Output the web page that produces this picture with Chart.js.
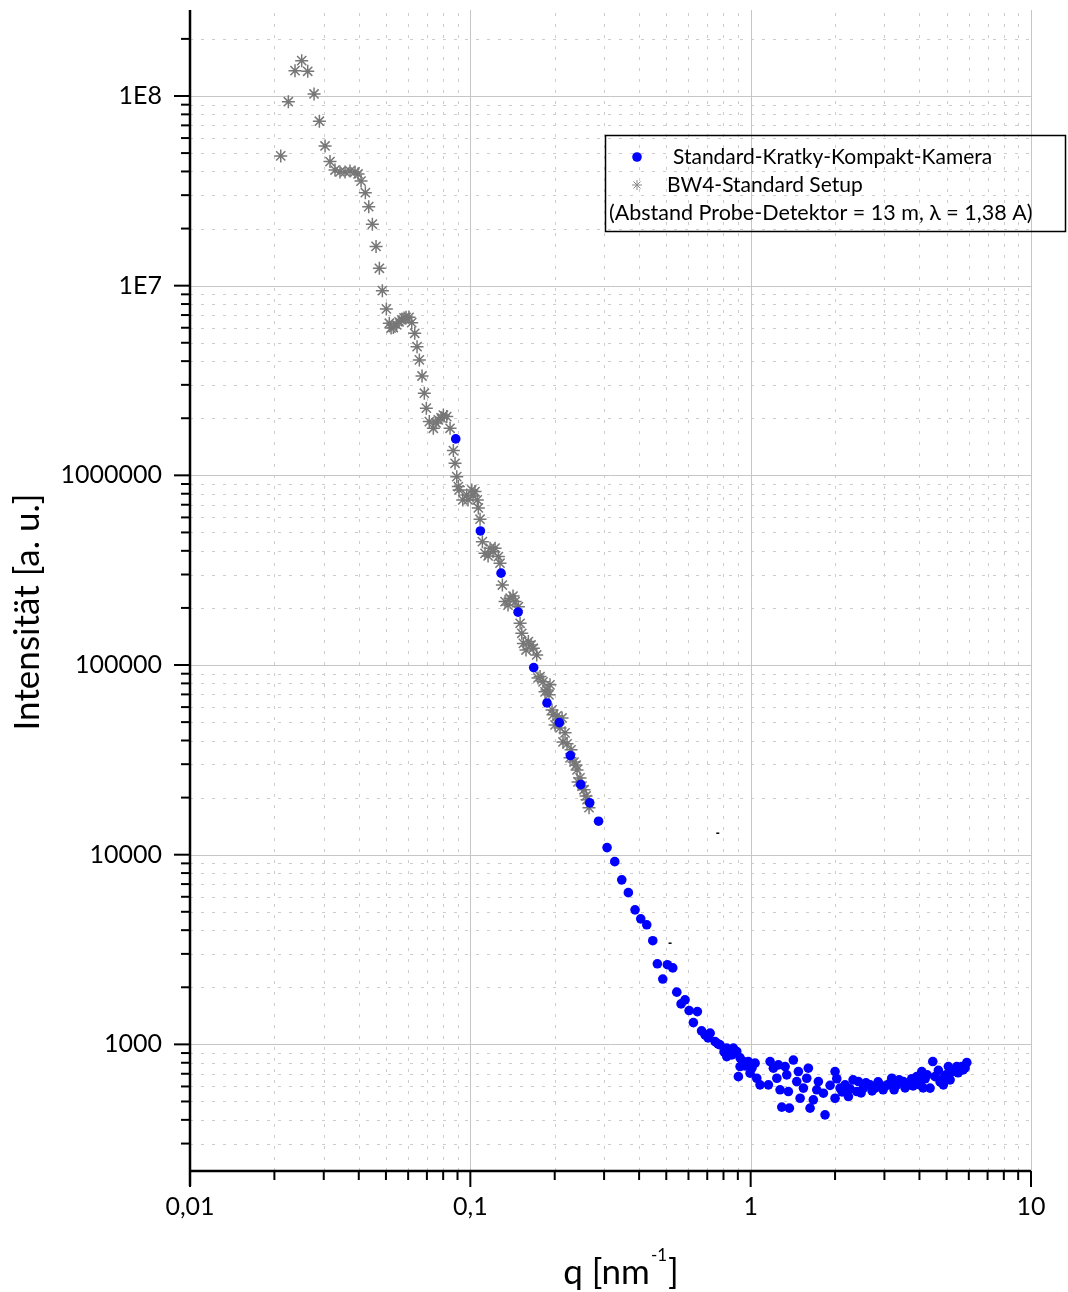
<!DOCTYPE html>
<html>
<head>
<meta charset="utf-8">
<script src="https://cdn.jsdelivr.net/npm/chart.js@4.4.1/dist/chart.umd.min.js"></script>
<style>
    html, body { margin: 0; padding: 0; background: #fff; }
    #wrap { width: 1068px; height: 1292px; position: relative; }
</style>
</head>
<body>
<div id="wrap"><canvas id="saxs"></canvas></div>
<script>
// Standard-Kratky-Kompakt-Kamera (blaue Punkte)
const kkkQ = [
    0.0887, 0.1086, 0.1287, 0.1480, 0.1683, 0.1877, 0.2077, 0.2274, 0.2476, 0.2667,
    0.2867, 0.3074, 0.3275, 0.3469, 0.3662, 0.3869, 0.4054, 0.4259, 0.4475, 0.4647,
    0.4858, 0.5045, 0.5274, 0.5451, 0.5646, 0.5834, 0.6030, 0.6246, 0.6455, 0.6682,
    0.6877, 0.7167, 0.7464, 0.7778, 0.8218, 0.8676, 0.8920, 0.8218, 0.8562, 0.9419,
    0.9813, 1.037, 0.9167, 0.9040, 0.9952, 1.051, 1.080, 1.173, 1.205, 1.256,
    1.327, 1.420, 1.157, 1.240, 1.345, 1.273, 1.363, 1.480, 1.606, 1.585,
    1.460, 1.542, 1.501, 1.291, 1.374, 1.629, 1.744, 1.721, 1.817, 1.673,
    1.842, 2.000, 2.028, 1.920, 2.084, 2.000, 2.172, 2.232, 2.423, 2.391,
    2.524, 2.667, 2.779, 2.895, 3.059, 3.187, 3.320, 3.506, 3.653, 3.756,
    3.914, 4.078, 4.022, 4.191, 4.365, 4.463, 4.548, 4.673, 4.869, 4.869,
    5.073, 5.287, 5.436, 5.664, 5.902,
    2.119, 2.262, 2.319, 2.477, 2.580, 2.711, 2.848, 2.968, 3.118, 3.248,
    3.384, 3.555, 3.797, 3.956, 4.122, 4.260, 4.740, 4.979, 5.146, 5.495,
    5.726, 5.821, 0.7047, 0.7650, 0.8037, 0.9167, 0.9550, 1.0116
];
const kkkI = [
    1556000, 509000, 305000, 190000, 96900, 63100, 49700, 33300, 23400, 18760,
    15020, 10900, 9190, 7370, 6310, 5120, 4590, 4270, 3520, 2660,
    2210, 2630, 2530, 1885, 1635, 1717, 1508, 1303, 1489, 1178,
    1122, 1146, 1034, 994, 955, 955, 917, 862, 880, 812,
    812, 796, 764, 676, 705, 663, 612, 812, 749, 780,
    764, 827, 612, 663, 691, 576, 564, 719, 749, 663,
    637, 588, 520, 467, 461, 461, 637, 576, 553, 510,
    425, 719, 659, 608, 588, 520, 612, 531, 637, 564,
    588, 612, 588, 612, 608, 663, 612, 637, 612, 659,
    676, 719, 612, 659, 588, 812, 676, 729, 663, 612,
    764, 719, 764, 764, 802,
    562, 583, 650, 555, 627, 569, 634, 576, 619, 576,
    650, 590, 604, 634, 590, 691, 634, 691, 650, 708,
    734, 752, 1082, 1006, 913, 849, 770, 752
];

// BW4-Standard Setup (graue Sterne)
const bw4Q = [
    0.02107, 0.02243, 0.02369, 0.02503, 0.0263, 0.0277, 0.02894, 0.03032, 0.03158, 0.0329,
    0.03428, 0.03573, 0.03722, 0.03879, 0.03976, 0.04075, 0.04222, 0.04341, 0.04472, 0.0461,
    0.04737, 0.04855, 0.05017, 0.0514, 0.05216, 0.05313, 0.05462, 0.05566, 0.05692, 0.05801,
    0.05897, 0.06044, 0.0618, 0.06335, 0.06456, 0.06579, 0.06726, 0.06854, 0.06967, 0.0714,
    0.07379, 0.07544, 0.0769, 0.07865, 0.08013, 0.08239, 0.08466, 0.08699, 0.0882, 0.08945,
    0.09063, 0.09115, 0.09396, 0.0971, 0.0981, 0.1012, 0.1022, 0.1039, 0.1059, 0.1068,
    0.1083, 0.1104, 0.1128, 0.1157, 0.1176, 0.1205, 0.1225, 0.1259, 0.1276, 0.1301,
    0.133, 0.1363, 0.1386, 0.142, 0.1444, 0.1484, 0.1505, 0.1526, 0.1546, 0.158,
    0.1611, 0.1647, 0.1678, 0.1725, 0.1744, 0.1773, 0.1817, 0.1847, 0.1877, 0.1908,
    0.1924, 0.1956, 0.1972, 0.2005, 0.2038, 0.2089, 0.2124, 0.2141, 0.2177, 0.2213,
    0.2268, 0.2287, 0.2344, 0.2383, 0.2402, 0.2422, 0.2462, 0.2503, 0.2544, 0.2587,
    0.2608, 0.2651
];
const bw4I = [
    4.83e7, 9.33e7, 1.36e8, 1.535e8, 1.35e8, 1.025e8, 7.36e7, 5.45e7, 4.51e7, 4.07e7,
    3.98e7, 3.98e7, 4.02e7, 3.98e7, 3.88e7, 3.56e7, 3.09e7, 2.61e7, 2.11e7, 1.61e7,
    1.235e7, 9.41e6, 7.54e6, 6.34e6, 5.98e6, 6.01e6, 6.21e6, 6.44e6, 6.6e6, 6.76e6,
    6.81e6, 6.81e6, 6.38e6, 5.61e6, 4.77e6, 4.06e6, 3.34e6, 2.71e6, 2.26e6, 1.92e6,
    1.77e6, 1.89e6, 1.96e6, 2.01e6, 2.08e6, 2.04e6, 1.77e6, 1.35e6, 1.158e6, 9.84e5,
    8.72e5, 8.38e5, 7.42e5, 7.88e5, 7.42e5, 8.38e5, 7.79e5, 8.21e5, 7.42e5, 6.73e5,
    5.87e5, 4.47e5, 3.88e5, 3.76e5, 4.13e5, 3.95e5, 4.13e5, 3.73e5, 3.44e5, 2.64e5,
    2.16e5, 2.07e5, 2.25e5, 2.31e5, 2.16e5, 2.03e5, 1.66e5, 1.47e5, 1.3e5, 1.2e5,
    1.33e5, 1.276e5, 1.226e5, 1.13e5, 8.55e4, 8.69e4, 8.15e4, 7.22e4, 7.39e4, 6.96e4,
    7.86e4, 5.8e4, 5.46e4, 4.83e4, 5.39e4, 4.66e4, 5.26e4, 3.93e4, 4.39e4, 3.84e4,
    3.24e4, 3.57e4, 3.08e4, 2.97e4, 2.8e4, 2.42e4, 2.54e4, 2.3e4, 2.2e4, 2.04e4,
    1.95e4, 1.77e4
];

// zwei kleine schwarze Striche im Bild
const markQ = [0.7633, 0.5158];
const markI = [12980, 3415];

// Achsen
const xRange = [0.01, 10];
const yRange = [215, 2.84e8];
const xTickLabels = ['0,01', '0,1', '1', '10'];        // 1e-2 .. 1e1
const yTickLabels = ['1000', '10000', '100000', '1000000', '1E7', '1E8']; // 1e3 .. 1e8
const legendNote = '(Abstand Probe-Detektor = 13 m, \u03bb = 1,38 A)';

const FONT = "Lato, 'DejaVu Sans', sans-serif";

function logTicks(min, max) {
    const out = [];
    for (let e = Math.floor(Math.log10(min)); e <= Math.ceil(Math.log10(max)); e++) {
        for (let m = 1; m <= 9; m++) {
            const v = m * Math.pow(10, e);
            if (v >= min * 0.999 && v <= max * 1.001) out.push(v);
        }
    }
    return out;
}
const isDecade = v => Math.abs(Math.log10(v) - Math.round(Math.log10(v))) < 1e-9;
const pts = (q, I) => q.map((v, i) => ({ x: v, y: I[i] }));

function drawStar(ctx, x, y, r) {
    ctx.beginPath();
    for (let k = 0; k < 4; k++) {
        const a = k * Math.PI / 4;
        ctx.moveTo(x - r * Math.cos(a), y - r * Math.sin(a));
        ctx.lineTo(x + r * Math.cos(a), y + r * Math.sin(a));
    }
    ctx.stroke();
}

// Gitter, Achsen, Titel und Legende im Origin-Stil
const originFrame = {
    id: 'originFrame',
    beforeDatasetsDraw(chart) {
        const { ctx, chartArea: a, scales: { x, y } } = chart;
        ctx.save();
        ctx.lineWidth = 1;
        // minor dotted
        ctx.strokeStyle = '#cdcdcd';
        ctx.setLineDash([3, 8]);
        logTicks(xRange[0], xRange[1]).filter(v => !isDecade(v)).forEach(v => {
            const px = Math.round(x.getPixelForValue(v)) + 0.5;
            ctx.beginPath(); ctx.moveTo(px, a.bottom); ctx.lineTo(px, a.top); ctx.stroke();
        });
        logTicks(yRange[0], yRange[1]).filter(v => !isDecade(v)).forEach(v => {
            const py = Math.round(y.getPixelForValue(v)) + 0.5;
            ctx.beginPath(); ctx.moveTo(a.left, py); ctx.lineTo(a.right, py); ctx.stroke();
        });
        // major solid
        ctx.setLineDash([]);
        ctx.strokeStyle = '#c6c6c6';
        logTicks(xRange[0], xRange[1]).filter(isDecade).forEach(v => {
            const px = Math.round(x.getPixelForValue(v)) + 0.5;
            ctx.beginPath(); ctx.moveTo(px, a.bottom); ctx.lineTo(px, a.top); ctx.stroke();
        });
        logTicks(yRange[0], yRange[1]).filter(isDecade).forEach(v => {
            const py = Math.round(y.getPixelForValue(v)) + 0.5;
            ctx.beginPath(); ctx.moveTo(a.left, py); ctx.lineTo(a.right, py); ctx.stroke();
        });
        ctx.restore();
    },
    afterDraw(chart) {
        const { ctx, chartArea: a, scales: { x, y } } = chart;
        ctx.save();
        ctx.strokeStyle = '#000';
        ctx.lineWidth = 2.5;
        // axes
        ctx.beginPath();
        ctx.moveTo(a.left, a.top); ctx.lineTo(a.left, a.bottom + 15);
        ctx.moveTo(a.left, a.bottom); ctx.lineTo(a.right, a.bottom);
        ctx.stroke();
        // ticks
        ctx.lineWidth = 2;
        logTicks(xRange[0], xRange[1]).forEach(v => {
            const px = x.getPixelForValue(v);
            const len = isDecade(v) ? 16 : 9;
            ctx.beginPath(); ctx.moveTo(px, a.bottom); ctx.lineTo(px, a.bottom + len); ctx.stroke();
        });
        logTicks(yRange[0], yRange[1]).forEach(v => {
            const py = y.getPixelForValue(v);
            const len = isDecade(v) ? 16 : 9;
            ctx.beginPath(); ctx.moveTo(a.left, py); ctx.lineTo(a.left - len, py); ctx.stroke();
        });

        // axis titles
        ctx.fillStyle = '#000';
        ctx.textBaseline = 'middle';
        ctx.textAlign = 'center';
        ctx.font = '35px ' + FONT;
        ctx.save();
        ctx.translate(28, 612);
        ctx.rotate(-Math.PI / 2);
        ctx.fillText('Intensit\u00e4t [a. u.]', 0, 0);
        ctx.restore();

        ctx.textAlign = 'left';
        const p1 = 'q [nm', p2 = '-1', p3 = ']';
        ctx.font = '35px ' + FONT;
        const w1 = ctx.measureText(p1).width, w3 = ctx.measureText(p3).width;
        ctx.font = '17px ' + FONT;
        const w2 = ctx.measureText(p2).width;
        let tx = 620 - (w1 + w2 + w3) / 2;
        ctx.font = '35px ' + FONT;
        ctx.fillText(p1, tx, 1273); tx += w1;
        ctx.font = '17px ' + FONT;
        ctx.fillText(p2, tx + 1, 1256); tx += w2 + 2;
        ctx.font = '35px ' + FONT;
        ctx.fillText(p3, tx, 1273);

        // legend
        ctx.lineWidth = 1.5;
        ctx.strokeRect(605.5, 135.5, 460, 96);
        ctx.fillStyle = '#0000ff';
        ctx.beginPath(); ctx.arc(637, 157, 4.8, 0, 2 * Math.PI); ctx.fill();
        ctx.strokeStyle = '#8a8a8a';
        ctx.lineWidth = 1;
        drawStar(ctx, 637, 185, 5);
        ctx.fillStyle = '#000';
        ctx.font = '21px ' + FONT;
        ctx.fillText(chart.data.datasets[0].label, 673, 157);
        ctx.fillText(chart.data.datasets[1].label, 667, 185);
        ctx.font = '21.5px ' + FONT;
        ctx.fillText(legendNote, 609, 213);
        ctx.restore();
    }
};

new Chart(document.getElementById('saxs'), {
    type: 'scatter',
    data: {
        datasets: [
            {
                label: 'Standard-Kratky-Kompakt-Kamera',
                data: pts(kkkQ, kkkI),
                pointStyle: 'circle', pointRadius: 4.8, pointBorderWidth: 0,
                backgroundColor: '#0000ff', borderColor: '#0000ff'
            },
            {
                label: 'BW4-Standard Setup',
                data: pts(bw4Q, bw4I),
                pointStyle: 'star', pointRadius: 6.5, pointBorderWidth: 1.5,
                backgroundColor: '#777777', borderColor: '#777777'
            },
            {
                label: 'marks',
                data: pts(markQ, markI),
                pointStyle: 'line', pointRadius: 1.5, pointBorderWidth: 1.5,
                borderColor: '#000', backgroundColor: '#000'
            }
        ]
    },
    options: {
        responsive: true,
        maintainAspectRatio: false,
        animation: false,
        events: [],
        layout: { padding: { top: 10, right: 37, left: 0, bottom: 0 } },
        plugins: { legend: { display: false }, tooltip: { enabled: false } },
        scales: {
            x: {
                type: 'logarithmic', position: 'bottom',
                min: xRange[0], max: xRange[1],
                grid: { display: false }, border: { display: false },
                afterBuildTicks: s => { s.ticks = logTicks(xRange[0], xRange[1]).map(v => ({ value: v })); },
                afterFit: s => { s.height = 121; s.paddingLeft = 0; s.paddingRight = 0; },
                ticks: {
                    autoSkip: false, maxRotation: 0, padding: 13, color: '#000',
                    font: { family: FONT, size: 25 },
                    callback: v => isDecade(v) ? xTickLabels[Math.round(Math.log10(v)) + 2] : ''
                }
            },
            y: {
                type: 'logarithmic', position: 'left',
                min: yRange[0], max: yRange[1],
                grid: { display: false }, border: { display: false },
                afterBuildTicks: s => { s.ticks = logTicks(yRange[0], yRange[1]).map(v => ({ value: v })); },
                afterFit: s => { s.width = 190; s.paddingTop = 0; s.paddingBottom = 0; },
                ticks: {
                    autoSkip: false, padding: 20, color: '#000',
                    font: { family: FONT, size: 25 },
                    callback: v => isDecade(v) ? yTickLabels[Math.round(Math.log10(v)) - 3] : ''
                }
            }
        }
    },
    plugins: [originFrame]
});
</script>
</body>
</html>
